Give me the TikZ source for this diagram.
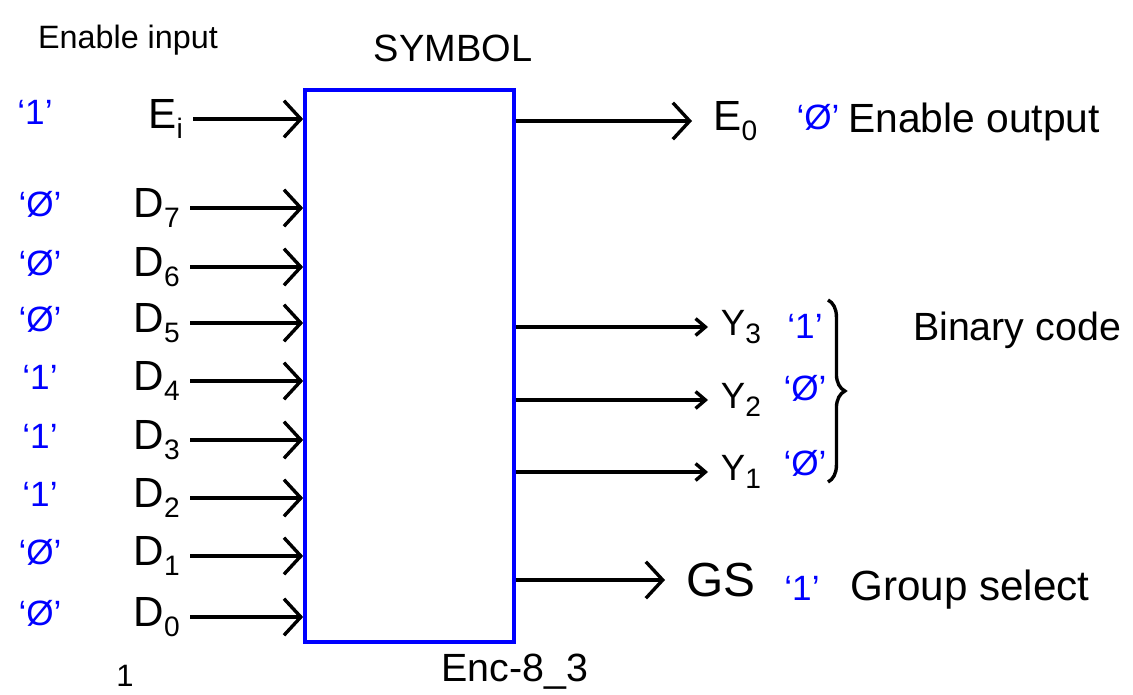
\documentclass[tikz,border=0pt]{standalone}
\usepackage{fontspec}
\setmainfont{Liberation Sans}
\usetikzlibrary{positioning,arrows.meta,decorations.pathreplacing}
\newcommand\pinsub[1]{\raisebox{-0.45ex}{\fontsize{20}{20}\selectfont #1}}

\begin{document}
\begin{tikzpicture}[x=0.025cm, y=-0.025cm,
    wire/.style={line width=2.4pt, -{Straight Barb[length=12pt,width=26pt,line width=2.4pt]}},
    ywire/.style={line width=2.4pt, -{Straight Barb[length=7pt,width=12pt,line width=2.4pt]}},
    pin/.style={font=\fontsize{30}{32}\selectfont, inner sep=1pt},
    bit/.style={font=\fontsize{25}{27}\selectfont, text=blue, inner sep=0pt},
    note/.style={font=\fontsize{28}{30}\selectfont, inner sep=0pt}]
  \useasboundingbox (0,0) rectangle (1133,695);

  \node[draw=blue, line width=2.6pt, minimum width=5.225cm, minimum height=13.8cm,
        inner sep=0pt] (enc) at (409.5,366) {};
  \node[note, font=\fontsize{27}{29}\selectfont] (title) at (453,48) {SYMBOL};
  \node[note, font=\fontsize{23}{25}\selectfont] (en in) at (128,40) {Enable input};
  \node[note] (enc name) at (515,672) {Enc-8\_3};
  \node[note, font=\fontsize{22}{24}\selectfont] (stray) at (125,676) {1};

  \coordinate (ei) at (193,119);
  \draw[wire] (ei) -- (ei -| enc.west);
  \node[pin, left=6pt of ei] (ei label) {E\pinsub{i}};
  \node[bit] (ei bit) at (35,112) {‘1’};

  \foreach \i/\y/\v in {7/208/Ø, 6/267/Ø, 5/323/Ø, 4/381/1,
                        3/440/1, 2/498/1, 1/556/Ø, 0/617/Ø} {
    \coordinate (d\i) at (190,\y);
    \draw[wire] (d\i) -- (d\i -| enc.west);
    \node[pin, left=6pt of d\i] (d\i label) {D\pinsub{\i}};
    \node[bit] (d\i bit) at (40,\y-4) {‘\v’};
  }

  \coordinate (eo) at (692,121);
  \draw[wire] (enc.east |- eo) -- (eo);
  \node[pin, right=14pt of eo] (eo label) {E\pinsub{0}};
  \node[bit] (eo bit) at (818,117) {‘Ø’};
  \node[note, font=\fontsize{29}{31}\selectfont, anchor=west] (eo note) at (848,122) {Enable output};

  \foreach \i/\y/\v/\by in {3/327/1/326, 2/400/Ø/388, 1/472/Ø/463} {
    \coordinate (y\i) at (708,\y);
    \draw[ywire] (enc.east |- y\i) -- (y\i);
    \node[pin, font=\fontsize{26}{28}\selectfont, right=8pt of y\i] (y\i label) {Y\pinsub{\i}};
    \node[bit] (y\i bit) at (805,\by) {‘\v’};
  }
  \coordinate (brace top) at (828,300);
  \coordinate (brace bot) at (828,482);
  \draw[line width=2.4pt, decorate, decoration={brace, amplitude=12pt}] (brace top) -- (brace bot);
  \node[note] (bin note) at (1017,330) {Binary code};

  \coordinate (gs) at (665,580);
  \draw[wire] (enc.east |- gs) -- (gs);
  \node[pin, font=\fontsize{34}{36}\selectfont, right=14pt of gs] (gs label) {GS};
  \node[bit] (gs bit) at (802,588) {‘1’};
  \node[note, font=\fontsize{30}{32}\selectfont, anchor=west] (gs note) at (850,590) {Group select};
\end{tikzpicture}
\end{document}
